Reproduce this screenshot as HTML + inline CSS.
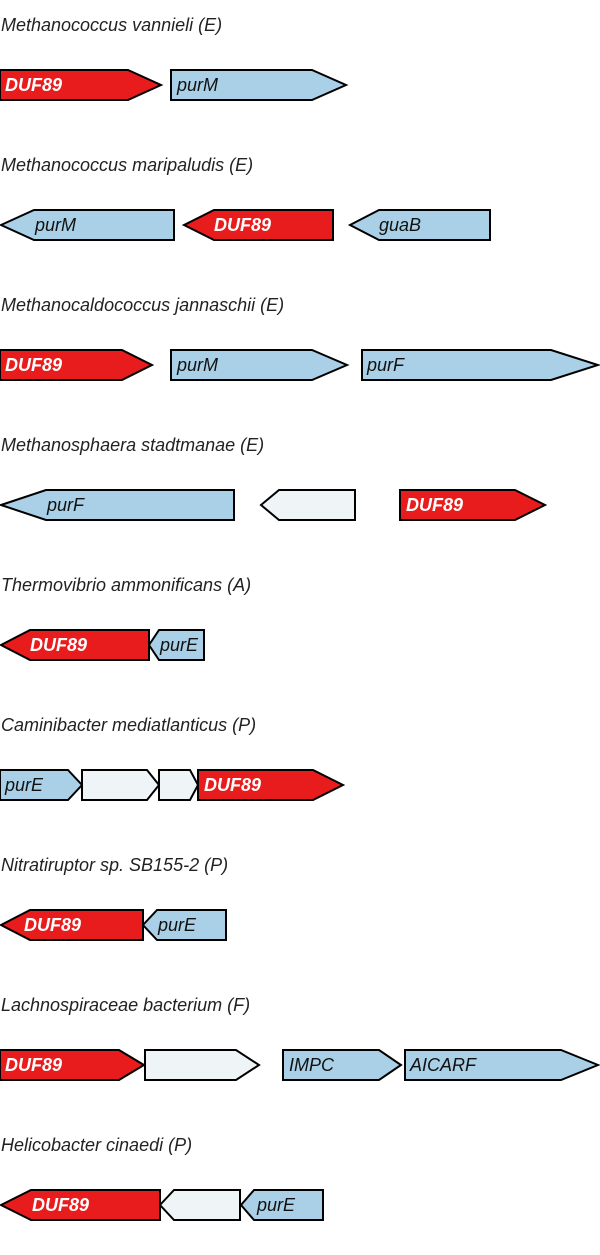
<!DOCTYPE html>
<html><head><meta charset="utf-8"><style>
html,body{margin:0;padding:0;background:#fff;width:600px;height:1255px;overflow:hidden}
svg{display:block}
.t{font-family:"Liberation Sans",sans-serif;font-style:italic;font-size:18px;fill:#222}
.l{font-family:"Liberation Sans",sans-serif;font-style:italic;font-size:18px;fill:#111}
.d{font-family:"Liberation Sans",sans-serif;font-style:italic;font-weight:bold;font-size:18px;fill:#fff}
.r{fill:#e81c1c;stroke:#000;stroke-width:2}
.b{fill:#a9d0e6;stroke:#000;stroke-width:2}
.w{fill:#eff4f7;stroke:#000;stroke-width:2}
</style></head><body>
<svg width="600" height="1255" viewBox="0 0 600 1255" xmlns="http://www.w3.org/2000/svg">
<!-- Row 0 -->
<text class="t" x="1" y="31">Methanococcus vannieli (E)</text>
<g transform="translate(0,70)">
<polygon class="r" points="0,0 128,0 161,15 128,30 0,30"/>
<text class="d" x="5" y="21">DUF89</text>
<polygon class="b" points="171,0 312,0 346,15 312,30 171,30"/>
<text class="l" x="177" y="21">purM</text>
</g>
<!-- Row 1 -->
<text class="t" x="1" y="171">Methanococcus maripaludis (E)</text>
<g transform="translate(0,210)">
<polygon class="b" points="1,15 34,0 174,0 174,30 34,30"/>
<text class="l" x="35" y="21">purM</text>
<polygon class="r" points="184,15 214,0 333,0 333,30 214,30"/>
<text class="d" x="214" y="21">DUF89</text>
<polygon class="b" points="350,15 379,0 490,0 490,30 379,30"/>
<text class="l" x="379" y="21">guaB</text>
</g>
<!-- Row 2 -->
<text class="t" x="1" y="311">Methanocaldococcus jannaschii (E)</text>
<g transform="translate(0,350)">
<polygon class="r" points="0,0 122,0 152,15 122,30 0,30"/>
<text class="d" x="5" y="21">DUF89</text>
<polygon class="b" points="171,0 312,0 347,15 312,30 171,30"/>
<text class="l" x="177" y="21">purM</text>
<polygon class="b" points="362,0 551,0 598,15 551,30 362,30"/>
<text class="l" x="367" y="21">purF</text>
</g>
<!-- Row 3 -->
<text class="t" x="1" y="451">Methanosphaera stadtmanae (E)</text>
<g transform="translate(0,490)">
<polygon class="b" points="1,15 46,0 234,0 234,30 46,30"/>
<text class="l" x="47" y="21">purF</text>
<polygon class="w" points="261,15 279,0 355,0 355,30 279,30"/>
<polygon class="r" points="400,0 515,0 545,15 515,30 400,30"/>
<text class="d" x="406" y="21">DUF89</text>
</g>
<!-- Row 4 -->
<text class="t" x="1" y="591">Thermovibrio ammonificans (A)</text>
<g transform="translate(0,630)">
<polygon class="r" points="1,15 30,0 149,0 149,30 30,30"/>
<text class="d" x="30" y="21">DUF89</text>
<polygon class="b" points="149,15 159,0 204,0 204,30 159,30"/>
<text class="l" x="160" y="21">purE</text>
</g>
<!-- Row 5 -->
<text class="t" x="1" y="731">Caminibacter mediatlanticus (P)</text>
<g transform="translate(0,770)">
<polygon class="b" points="0,0 68,0 82,15 68,30 0,30"/>
<text class="l" x="5" y="21">purE</text>
<polygon class="w" points="82,0 147,0 159,15 147,30 82,30"/>
<polygon class="w" points="159,0 190,0 198,15 190,30 159,30"/>
<polygon class="r" points="198,0 313,0 343,15 313,30 198,30"/>
<text class="d" x="204" y="21">DUF89</text>
</g>
<!-- Row 6 -->
<text class="t" x="1" y="871">Nitratiruptor sp. SB155-2 (P)</text>
<g transform="translate(0,910)">
<polygon class="r" points="1,15 30,0 143,0 143,30 30,30"/>
<text class="d" x="24" y="21">DUF89</text>
<polygon class="b" points="143,15 157,0 226,0 226,30 157,30"/>
<text class="l" x="158" y="21">purE</text>
</g>
<!-- Row 7 -->
<text class="t" x="1" y="1011">Lachnospiraceae bacterium (F)</text>
<g transform="translate(0,1050)">
<polygon class="r" points="0,0 119,0 144,15 119,30 0,30"/>
<text class="d" x="5" y="21">DUF89</text>
<polygon class="w" points="145,0 236,0 259,15 236,30 145,30"/>
<polygon class="b" points="283,0 379,0 401,15 379,30 283,30"/>
<text class="l" x="289" y="21">IMPC</text>
<polygon class="b" points="405,0 561,0 598,15 561,30 405,30"/>
<text class="l" x="410" y="21">AICARF</text>
</g>
<!-- Row 8 -->
<text class="t" x="1" y="1151">Helicobacter cinaedi (P)</text>
<g transform="translate(0,1190)">
<polygon class="r" points="1,15 31,0 160,0 160,30 31,30"/>
<text class="d" x="32" y="21">DUF89</text>
<polygon class="w" points="160,15 174,0 240,0 240,30 174,30"/>
<polygon class="b" points="241,15 254,0 323,0 323,30 254,30"/>
<text class="l" x="257" y="21">purE</text>
</g>
</svg>
</body></html>
